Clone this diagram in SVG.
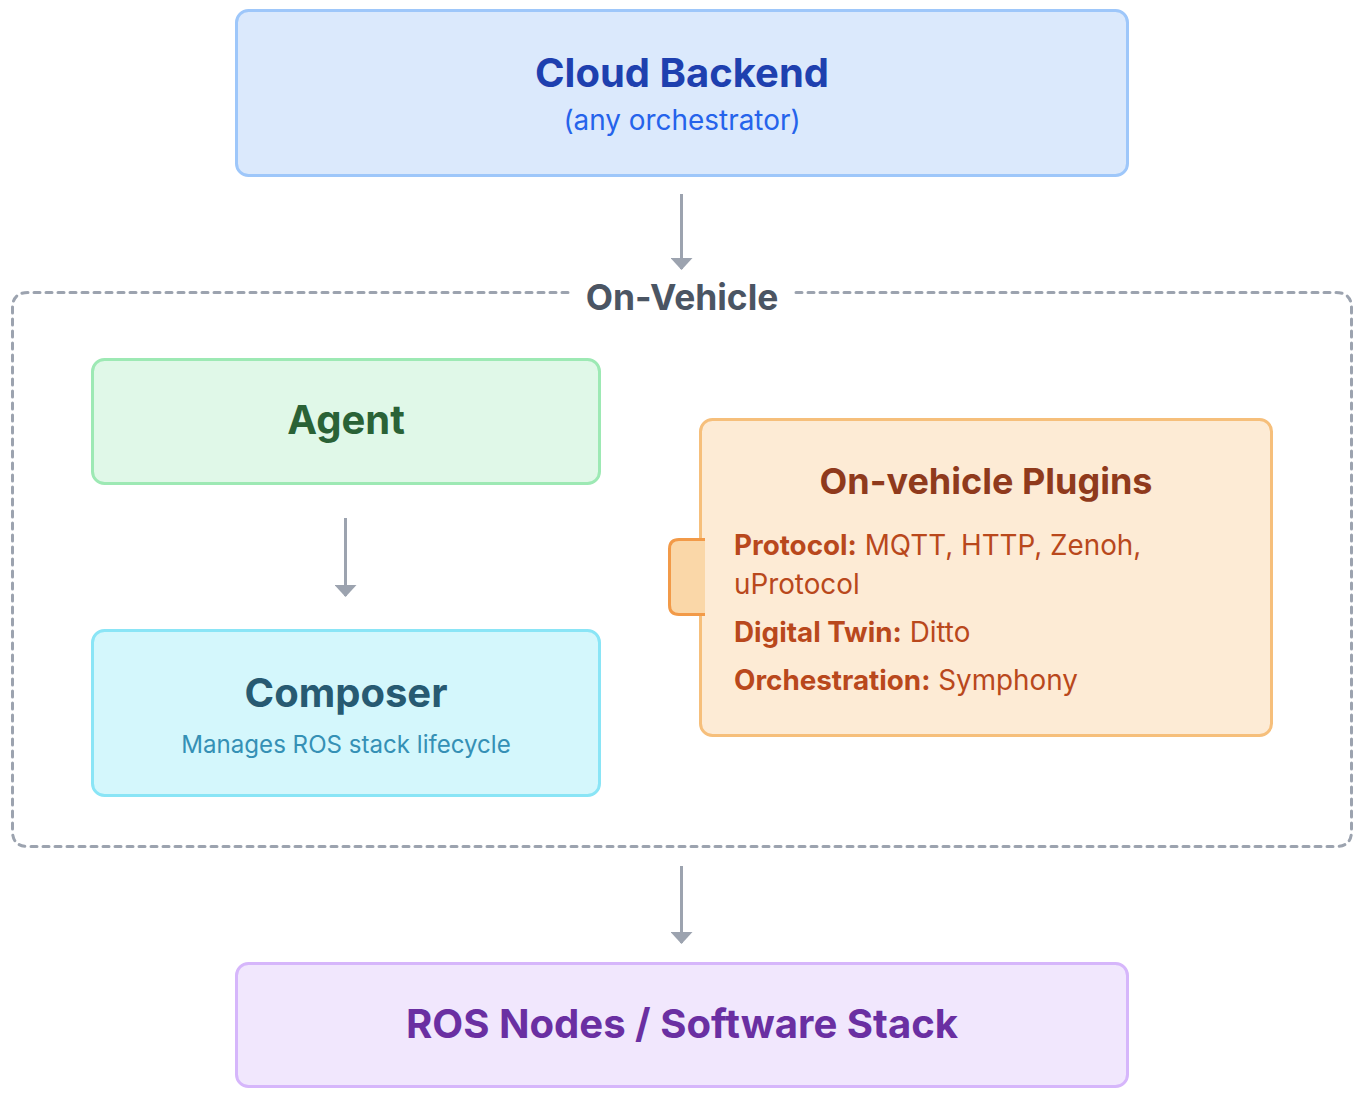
<svg xmlns="http://www.w3.org/2000/svg" width="1360" height="1098" viewBox="0 0 1360 1098">
<defs>
<style>
text{font-family:Inter,"Noto Sans","Liberation Sans",sans-serif;}
.t{font-weight:700;text-anchor:middle;}
.c{text-anchor:middle;}
.box{stroke-width:3;}
.conn{stroke:#9ca3af;stroke-width:3;fill:none;}
.pl{font-size:27.8px;fill:#b9481c;}
.pl tspan.b{font-weight:700;}
</style>
<marker id="ah" viewBox="0 0 12 22" refX="11" refY="11" markerWidth="12" markerHeight="22" markerUnits="userSpaceOnUse" orient="auto">
<path d="M0,0 L12,11 L0,22 Z" fill="#9ca3af"/>
</marker>
</defs>
<rect width="1360" height="1098" fill="#ffffff"/>

<g id="cloud">
<rect class="box" x="236.5" y="10.5" width="891" height="165" rx="12" fill="#dbe9fc" stroke="#9ec7fa"/>
<text class="t" x="682" y="87" font-size="40" fill="#1e40af">Cloud Backend</text>
<text class="c" x="682" y="130" font-size="27.9" fill="#2563eb">(any orchestrator)</text>
</g>

<g id="on-vehicle">
<path d="M568,292.5 H28 Q12.5,292.5 12.5,308 V831 Q12.5,846.5 28,846.5 H1336 Q1351.5,846.5 1351.5,831 V308 Q1351.5,292.5 1336,292.5 H796" fill="none" stroke="#9ca3af" stroke-width="3" stroke-dasharray="6,6" stroke-linecap="round"/>
<text class="t" x="682" y="310" font-size="35.4" fill="#4b5563">On-Vehicle</text>
</g>

<g id="agent">
<rect class="box" x="92.5" y="359.5" width="507" height="124" rx="12" fill="#e0f8e8" stroke="#9de9b4"/>
<text class="t" x="346" y="434" font-size="40" fill="#2a6236">Agent</text>
</g>

<g id="composer">
<rect class="box" x="92.5" y="630.5" width="507" height="165" rx="12" fill="#d4f7fc" stroke="#8ae5f6"/>
<text class="t" x="346" y="707" font-size="40" fill="#275a72">Composer</text>
<text class="c" x="346" y="753" font-size="24.1" fill="#3590b5">Manages ROS stack lifecycle</text>
</g>

<g id="plugins">
<rect class="box" x="700.5" y="419.5" width="571" height="316" rx="12" fill="#fdebd5" stroke="#f6bf7b"/>
<path d="M705,539.5 H679 Q669.5,539.5 669.5,549 V605 Q669.5,614.5 679,614.5 H705" fill="#fad7a8" stroke="#f29a48" stroke-width="3"/>
<text class="t" x="986" y="494" font-size="36" fill="#8f3a1c">On-vehicle Plugins</text>
<text class="pl" x="734" y="555"><tspan class="b">Protocol:</tspan> MQTT, HTTP, Zenoh,</text>
<text class="pl" x="734" y="594">uProtocol</text>
<text class="pl" x="734" y="642"><tspan class="b">Digital Twin:</tspan> Ditto</text>
<text class="pl" x="734" y="690"><tspan class="b">Orchestration:</tspan> Symphony</text>
</g>

<g id="ros">
<rect class="box" x="236.5" y="963.5" width="891" height="123" rx="12" fill="#f1e7fd" stroke="#d6b6fb"/>
<text class="t" x="682" y="1038" font-size="40.1" fill="#6a2fa2">ROS Nodes / Software Stack</text>
</g>

<g id="connectors">
<line class="conn" x1="681.5" y1="194" x2="681.5" y2="269" marker-end="url(#ah)"/>
<line class="conn" x1="345.5" y1="518" x2="345.5" y2="596" marker-end="url(#ah)"/>
<line class="conn" x1="681.5" y1="866" x2="681.5" y2="943" marker-end="url(#ah)"/>
</g>
</svg>
